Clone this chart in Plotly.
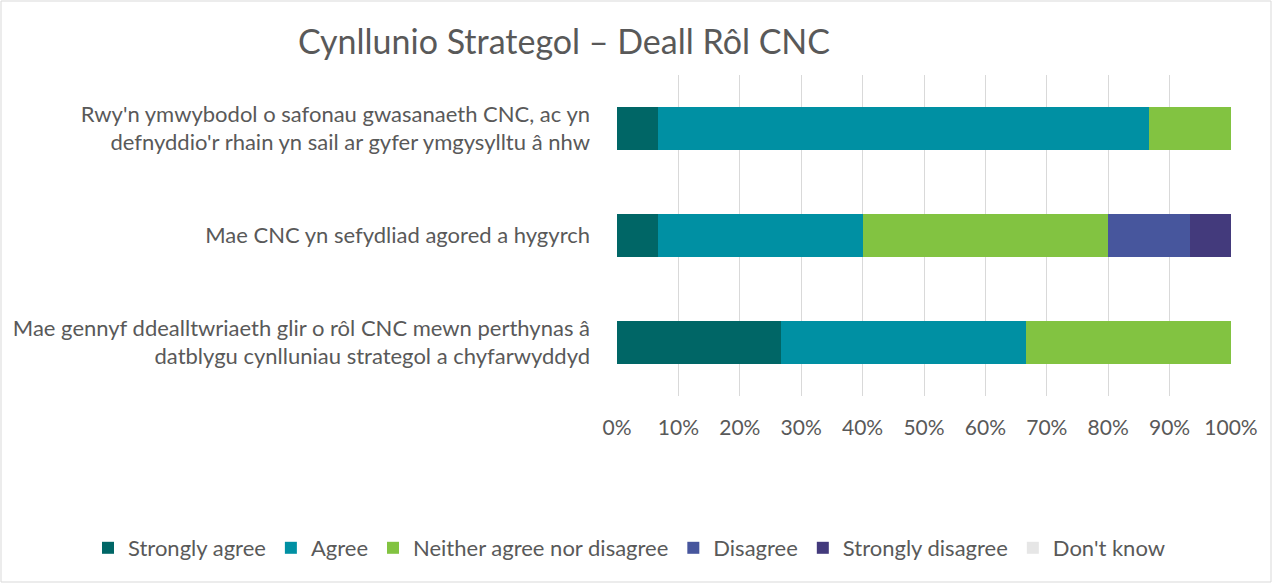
import plotly.graph_objects as go

categories = [
    "Rwy'n ymwybodol o safonau gwasanaeth CNC, ac yn<br>defnyddio'r rhain yn sail ar gyfer ymgysylltu â nhw",
    "Mae CNC yn sefydliad agored a hygyrch",
    "Mae gennyf ddealltwriaeth glir o rôl CNC mewn perthynas â<br>datblygu cynlluniau strategol a chyfarwyddyd",
]
series_names = ["Strongly agree", "Agree", "Neither agree nor disagree",
                "Disagree", "Strongly disagree", "Don't know"]
strongly_agree = [6.67, 6.67, 26.67]
agree = [80.0, 33.33, 40.0]
neither = [13.33, 40.0, 33.33]
disagree = [0, 13.33, 0]
strongly_disagree = [0, 6.67, 0]
dont_know = [0, 0, 0]
tick_vals = [0, 10, 20, 30, 40, 50, 60, 70, 80, 90, 100]
tick_text = [f"{v}%" for v in tick_vals]

colors = ["#006666", "#0090A3", "#82C341", "#47569D", "#433A7C", "#E6E6E6"]
values = [strongly_agree, agree, neither, disagree, strongly_disagree, dont_know]

FONT = "Lato"
GREY = "#595959"

fig = go.Figure()
for name, vals, col in zip(series_names, values, colors):
    fig.add_trace(go.Bar(
        name=name, y=categories, x=vals, orientation="h",
        marker=dict(color=col, line=dict(width=0)),
        hoverinfo="x+name",
    ))

L, R, T, B = 617, 41, 75, 187
W, H = 1272, 583
pw = W - L - R
ph = H - T - B

fig.update_layout(
    width=W, height=H,
    barmode="stack", bargap=0.6,
    plot_bgcolor="white", paper_bgcolor="white",
    margin=dict(l=L, r=R, t=T, b=B),
    font=dict(family=FONT, size=22, color=GREY),
    title=dict(text="Cynllunio Strategol – Deall Rôl CNC",
               x=564 / W, xanchor="center", xref="container",
               y=1 - 42 / H, yanchor="middle", yref="container",
               font=dict(family=FONT, size=34, color=GREY)),
    xaxis=dict(range=[0, 100], tickvals=tick_vals, ticktext=tick_text,
               showgrid=True, gridcolor="#D9D9D9", gridwidth=1,
               zeroline=False, showline=False, ticks="", ticklen=0,
               ticklabelstandoff=17,
               tickfont=dict(size=21, color=GREY), fixedrange=True),
    yaxis=dict(autorange="reversed", showgrid=False, ticks="",
               ticklabelstandoff=26,
               tickfont=dict(size=22, color=GREY), fixedrange=True),
    legend=dict(orientation="h", x=(88 - L) / pw, xanchor="left",
                y=-(548 - (H - B)) / ph, yanchor="middle",
                font=dict(size=22, color=GREY), traceorder="normal",
                itemwidth=30),
    showlegend=True,
)

# chart border
fig.add_shape(type="rect", xref="paper", yref="paper",
              x0=(1 - L) / pw, x1=(W - 1 - L) / pw,
              y0=-(H - 1 - (H - B)) / ph, y1=(H - B - 1) / ph,
              line=dict(color="#D9D9D9", width=1), fillcolor="rgba(0,0,0,0)",
              layer="below")

fig.write_html("out.html", config={"displayModeBar": False},
               post_script="document.body.style.margin='0';document.body.style.padding='0';")
